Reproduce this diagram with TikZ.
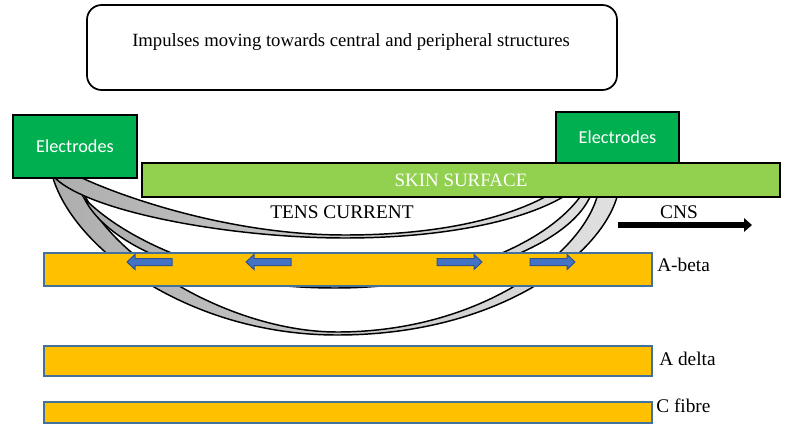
\documentclass[tikz,border=0pt]{standalone}
\usepackage{fontspec}
\setmainfont{Liberation Serif}
\newfontfamily\calibrifont{Carlito}
\usetikzlibrary{arrows.meta}
\definecolor{elgreen}{HTML}{00B050}
\definecolor{skingreen}{HTML}{92D050}
\definecolor{fibrefill}{HTML}{FFC000}
\definecolor{fibreedge}{HTML}{41719C}
\definecolor{arrblue}{HTML}{4472C4}
\definecolor{arredge}{HTML}{2F528F}
\tikzset{
  band/.style={draw=black, line width=1.1pt, left color=black!32, right color=black!12},
  elbox/.style={draw=black, line width=1.5pt, fill=elgreen, text=white, inner sep=0pt,
    font=\calibrifont\fontsize{13.7}{16}\selectfont},
  skinbox/.style={draw=black, line width=1.5pt, fill=skingreen, text=white, inner sep=0pt,
    font=\fontsize{14.2}{17}\selectfont},
  fibrebar/.style={draw=fibreedge, line width=1pt, fill=fibrefill, inner sep=0pt},
  titlebox/.style={draw=black, line width=1.3pt, rounded corners=11pt, inner sep=0pt},
  lbl/.style={inner sep=0pt, font=\fontsize{14.5}{17}\selectfont},
  pics/barrow/.style={code={
    \draw[draw=arredge, fill=arrblue, line width=0.75pt]
      (0,-3.5) -- (37,-3.5) -- (37,-7.5) -- (45,0) -- (37,7.5) -- (37,3.5) -- (0,3.5) -- cycle;}}
}
\begin{document}
\begin{tikzpicture}[x=0.75pt,y=-0.75pt]
\useasboundingbox (0,0) rectangle (788,431);

% title box
\node[titlebox, minimum width=397.5pt, minimum height=63.75pt] (title) at (352,47.5) {};
\node[lbl, font=\fontsize{14}{17}\selectfont] (titletext) at (351,42) {Impulses moving towards central and peripheral structures};

% current bands
\path[band] (50,170) -- (53,178) .. controls (75,250) and (190,335) .. (337,335)
  .. controls (500,335) and (600,255) .. (617,197) -- (620,187) -- (600,187) -- (597,197)
  .. controls (580,255) and (480,332) .. (337,332)
  .. controls (230,332) and (100,255) .. (78,178) -- (76,170) -- cycle;
\path[band] (84,198) .. controls (110,250) and (210,288) .. (335,288)
  .. controls (450,288) and (565,250) .. (590,197) -- (594,187) -- (584,187) -- (580,197)
  .. controls (540,250) and (440,285) .. (335,285)
  .. controls (230,285) and (130,245) .. (84,198) -- cycle;
\path[band] (52,172) -- (55,178) .. controls (90,212) and (230,238) .. (345,238)
  .. controls (440,238) and (520,222) .. (563,197) -- (575,190) -- (557,190) -- (545,197)
  .. controls (505,218) and (440,235) .. (345,235)
  .. controls (235,235) and (130,200) .. (82,178) -- (78,172) -- cycle;

% fibres
\node[fibrebar, minimum width=456pt, minimum height=24.75pt] (abeta) at (348,269.5) {};
\node[fibrebar, minimum width=456pt, minimum height=22.5pt] (adelta) at (348,361) {};
\node[fibrebar, minimum width=456pt, minimum height=15.75pt] (cfibre) at (348,412.5) {};

% impulse arrows
\pic[xscale=-1] at (172,262) {barrow};
\pic[xscale=-1] at (291,262) {barrow};
\pic at (437,262) {barrow};
\pic at (530,262) {barrow};

% electrodes and skin
\node[elbox, minimum width=92.25pt, minimum height=38.25pt] (elR) at (617.5,137.5) {Electrodes};
\node[skinbox, minimum width=478.5pt, minimum height=25.5pt] (skin) at (461,180) {SKIN SURFACE};
\node[elbox, minimum width=93pt, minimum height=47.25pt] (elL) at (75,146.5) {Electrodes};

% labels
\node[lbl] (tens) at (342,212) {TENS CURRENT};
\node[lbl] (cns) at (679,212) {CNS};
\coordinate (cnsA) at (618,225);
\coordinate (cnsB) at (752,225);
\draw[line width=4.5pt, -{Triangle[length=6pt,width=10pt]}] (cnsA) -- (cnsB);
\node[lbl, anchor=west] (labeta) at (657,265) {A-beta};
\node[lbl, anchor=west] (ladelta) at (659,359) {A delta};
\node[lbl, anchor=west] (lcfibre) at (656,406) {C fibre};
\end{tikzpicture}
\end{document}
